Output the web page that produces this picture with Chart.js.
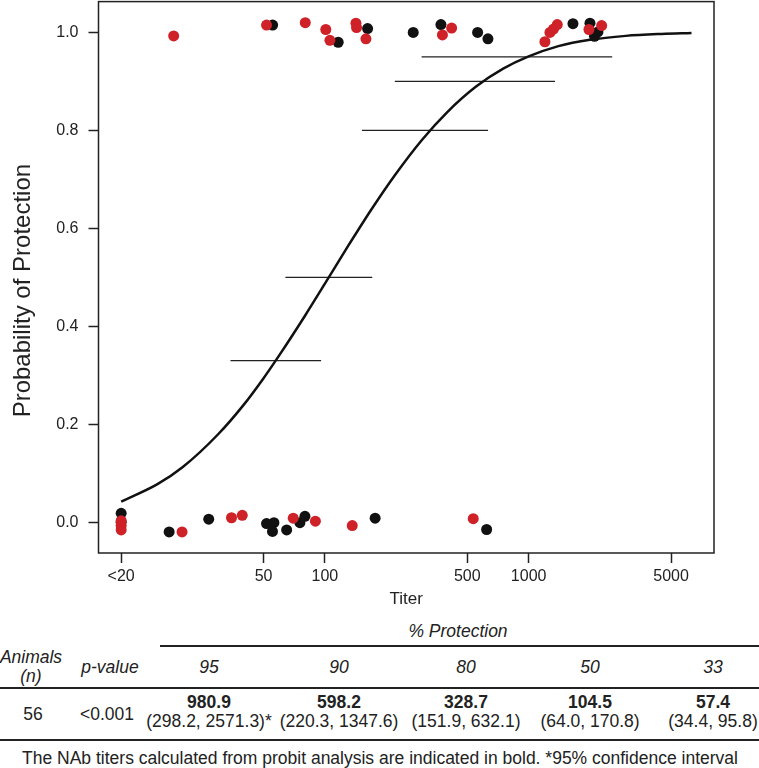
<!DOCTYPE html>
<html>
<head>
<meta charset="utf-8">
<script src="https://cdn.jsdelivr.net/npm/chart.js@4"></script>
<style>
  body { margin: 0; background: #fff; font-family: "Liberation Sans", Arial, sans-serif; color: #222; }
  #wrap { position: relative; width: 759px; height: 768px; overflow: hidden; }
  #plot { position: absolute; left: 0; top: -18px; }
  .t { position: absolute; transform: translate(-50%, -50%); white-space: nowrap; font-size: 17.5px; line-height: 19px; text-align: center; }
  .i { font-style: italic; }
  .b { font-weight: bold; }
  .rule { position: absolute; height: 2px; background: #222; }
</style>
</head>
<body>
<div id="wrap">
  <canvas id="plot" width="759" height="631"></canvas>
</div>
<script>
// protected animals (red) and unprotected (black), jittered around 0 / 1
const redTiter = [18.1, 51.7, 80.1, 101, 105.8, 142, 143, 159, 418.8, 377.4, 1202, 1272, 1324, 1382, 1977, 2282,
                  10, 10, 10, 19.9, 34.8, 39.3, 69.9, 89.8, 136.2, 534.6];
const redProb  = [0.993, 1.015, 1.020, 1.006, 0.984, 1.019, 1.010, 0.987, 1.009, 0.995, 0.981, 1.000, 1.007, 1.016, 1.006, 1.014,
                  0.003, -0.007, -0.016, -0.020, 0.009, 0.014, 0.008, 0.002, -0.007, 0.007];
const blackTiter = [55.4, 116.2, 162, 271.3, 371.1, 561.8, 631.3, 1650, 2000, 2104, 2189,
                    10, 10, 17.2, 26.9, 51.7, 56.2, 55.3, 64.9, 75.4, 79.8, 176.4, 622];
const blackProb  = [1.015, 0.980, 1.008, 1.000, 1.016, 1.000, 0.987, 1.018, 1.019, 0.992, 1.001,
                    0.018, 0.000, -0.020, 0.006, -0.003, -0.001, -0.019, -0.016, -0.001, 0.012, 0.008, -0.015];

// probit curve
const curveTiter = [10, 15, 20, 30, 40, 50, 60, 80, 100, 130, 170, 220, 300, 400, 550, 750, 1000, 1400, 2000, 3000, 4500, 6300];
const curveProb  = [0.042, 0.077, 0.112, 0.180, 0.240, 0.294, 0.342, 0.422, 0.487, 0.564, 0.640, 0.708, 0.781, 0.838,
                    0.889, 0.926, 0.951, 0.972, 0.985, 0.993, 0.997, 0.999];

// confidence intervals
const ciLevel = [0.95, 0.90, 0.80, 0.50, 0.33];
const ciLow   = [298.2, 220.3, 151.9, 64.0, 34.4];
const ciHigh  = [2571.3, 1347.6, 632.1, 170.8, 95.8];

const xTicks = [10, 50, 100, 500, 1000, 5000];
const yTicks = [0, 0.2, 0.4, 0.6, 0.8, 1.0];

// table
const protectionLevels = ['95', '90', '80', '50', '33'];
const nabTiter = ['980.9', '598.2', '328.7', '104.5', '57.4'];
const nabCI = ['(298.2, 2571.3)*', '(220.3, 1347.6)', '(151.9, 632.1)', '(64.0, 170.8)', '(34.4, 95.8)'];
const animals = '56';
const pValue = '<0.001';

Chart.defaults.font.family = '"Liberation Sans", Arial, sans-serif';
Chart.defaults.color = '#222';

const toPts = (xs, ys) => xs.map((x, i) => ({ x: x, y: ys[i] }));

const boxPlugin = {
  id: 'box',
  afterDraw(chart) {
    const a = chart.chartArea, c = chart.ctx;
    c.save();
    c.strokeStyle = '#222';
    c.lineWidth = 1.5;
    c.strokeRect(a.left, a.top, a.right - a.left, a.bottom - a.top);
    c.restore();
  }
};

const ciSets = ciLevel.map((lv, i) => ({
  type: 'line',
  data: [{ x: ciLow[i], y: lv }, { x: ciHigh[i], y: lv }],
  borderColor: '#222', borderWidth: 1.3, pointRadius: 0
}));

new Chart(document.getElementById('plot'), {
  type: 'scatter',
  data: {
    datasets: [
      { data: toPts(redTiter, redProb), backgroundColor: '#cf2128', borderWidth: 0, pointRadius: 5.5 },
      { data: toPts(blackTiter, blackProb), backgroundColor: '#111', borderWidth: 0, pointRadius: 5.5 },
      { type: 'line', data: toPts(curveTiter, curveProb), borderColor: '#111', borderWidth: 2.5,
        pointRadius: 0, cubicInterpolationMode: 'monotone' },
      ...ciSets
    ]
  },
  options: {
    responsive: false,
    animation: false,
    layout: { padding: { top: 1, right: 45, left: 0, bottom: 0 } },
    plugins: { legend: { display: false }, tooltip: { enabled: false } },
    scales: {
      x: {
        type: 'logarithmic', min: 7.74, max: 8124,
        afterFit: s => { s.height = 60; },
        afterBuildTicks: s => { s.ticks = xTicks.map(v => ({ value: v })); },
        grid: { drawOnChartArea: false, tickLength: 10, tickColor: '#222', tickWidth: 1.5 },
        border: { display: false },
        ticks: { font: { size: 16 }, padding: 4, maxRotation: 0, autoSkip: false,
                 callback: v => v === 10 ? '<20' : String(v) },
        title: { display: true, text: 'Titer', font: { size: 17 }, padding: { top: 0, bottom: 3 } }
      },
      y: {
        min: -0.063, max: 1.063,
        afterFit: s => { s.width = 98.5; },
        afterBuildTicks: s => { s.ticks = yTicks.map(v => ({ value: v })); },
        grid: { drawOnChartArea: false, tickLength: 10, tickColor: '#222', tickWidth: 1.5 },
        border: { display: false },
        ticks: { font: { size: 16 }, padding: 10, callback: v => v.toFixed(1) },
        title: { display: true, text: 'Probability of Protection    ', font: { size: 24 }, padding: { top: 9, bottom: 0 } }
      }
    }
  },
  plugins: [boxPlugin]
});

// table under the plot
const wrap = document.getElementById('wrap');
function place(html, x, y, cls) {
  const d = document.createElement('div');
  d.className = 't ' + (cls || '');
  d.style.left = x + 'px';
  d.style.top = y + 'px';
  d.innerHTML = html;
  wrap.appendChild(d);
}
function rule(x0, x1, y) {
  const d = document.createElement('div');
  d.className = 'rule';
  d.style.left = x0 + 'px';
  d.style.width = (x1 - x0) + 'px';
  d.style.top = (y - 1) + 'px';
  wrap.appendChild(d);
}
const colX = [209, 339, 466, 590, 713];
place('% Protection', 458, 631, 'i');
rule(160, 759, 646);
place('Animals<br>(n)', 31, 667, 'i');
place('p-value', 110, 667, 'i');
protectionLevels.forEach((p, i) => place(p, colX[i], 667, 'i'));
rule(0, 759, 688);
place(animals, 33, 714);
place(pValue.replace('<', '&lt;'), 107, 714);
nabTiter.forEach((v, i) => place('<span class="b">' + v + '</span><br>' + nabCI[i], colX[i], 712));
rule(0, 759, 740);
place('The NAb titers calculated from probit analysis are indicated in bold. *95% confidence interval', 380, 758);
</script>
</body>
</html>
